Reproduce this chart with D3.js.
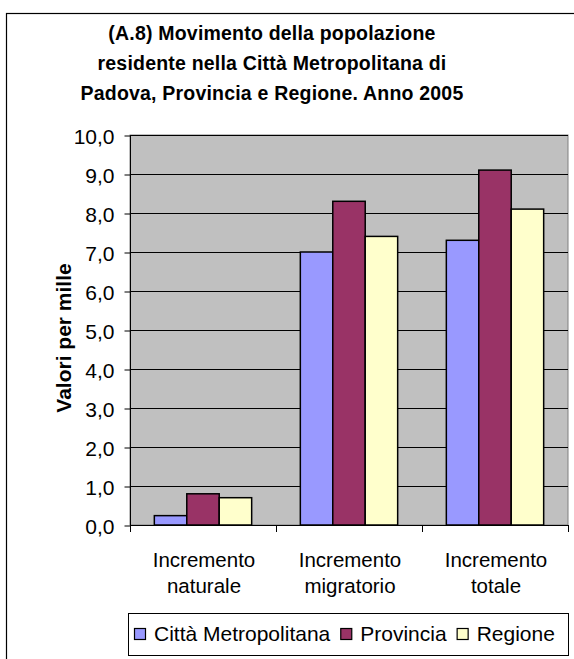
<!DOCTYPE html>
<html>
<head>
<meta charset="utf-8">
<script src="https://cdn.jsdelivr.net/npm/d3@7"></script>
<style>
  body { margin: 0; background: #fff; }
  text { font-family: "Liberation Sans", Arial, sans-serif; fill: #000; }
</style>
</head>
<body>
<div id="chart"></div>
<script>
// data
var categories = [["Incremento", "naturale"], ["Incremento", "migratorio"], ["Incremento", "totale"]];
var seriesNames = ["Città Metropolitana", "Provincia", "Regione"];
var seriesColors = ["#9999FF", "#993366", "#FFFFCC"];
var cittaMetro = [0.24, 7.0, 7.3];
var provincia = [0.8, 8.3, 9.1];
var regione = [0.7, 7.4, 8.1];
var yTicks = [0, 1, 2, 3, 4, 5, 6, 7, 8, 9, 10];
var titleLines = ["(A.8) Movimento della popolazione",
                  "residente nella Città Metropolitana di",
                  "Padova, Provincia e Regione. Anno 2005"];

var series = [cittaMetro, provincia, regione];

var W = 574, H = 659;
var plot = { left: 130, right: 568, top: 135, bottom: 525 };

var svg = d3.select("#chart").append("svg")
    .attr("width", W)
    .attr("height", H);

// outer chart border (runs off the picture at right and bottom)
svg.append("rect")
    .attr("x", 6.5).attr("y", 13.5)
    .attr("width", 700).attr("height", 800)
    .attr("fill", "#fff")
    .attr("stroke", "#000")
    .attr("stroke-width", 1.2);

// title
svg.append("g").selectAll("text")
    .data(titleLines)
    .enter().append("text")
    .attr("x", 272)
    .attr("y", function(d, i) { return 40 + i * 30; })
    .attr("text-anchor", "middle")
    .style("font-size", "19.5px")
    .style("font-weight", "bold")
    .style("letter-spacing", "0.2px")
    .text(function(d) { return d; });

var x0 = d3.scaleBand()
    .domain(d3.range(categories.length))
    .range([plot.left, plot.right])
    .paddingInner(0)
    .paddingOuter(0);

var bw = x0.bandwidth() / 4.5;   // gap width 150%

var y = d3.scaleLinear()
    .domain([0, 10])
    .range([plot.bottom, plot.top]);

// plot area
svg.append("rect")
    .attr("x", plot.left).attr("y", plot.top)
    .attr("width", plot.right - plot.left)
    .attr("height", plot.bottom - plot.top)
    .attr("fill", "#C0C0C0")
    .attr("stroke", "#808080")
    .attr("stroke-width", 1);

// gridlines
svg.append("g").selectAll("line")
    .data(yTicks.filter(function(d) { return d > 0; }))
    .enter().append("line")
    .attr("x1", plot.left).attr("x2", plot.right)
    .attr("y1", function(d) { return Math.round(y(d)) + 0.5; })
    .attr("y2", function(d) { return Math.round(y(d)) + 0.5; })
    .attr("stroke", "#000")
    .attr("stroke-width", 1);

// bars
var groups = svg.append("g").selectAll("g")
    .data(series)
    .enter().append("g")
    .attr("fill", function(d, i) { return seriesColors[i]; });

groups.each(function(vals, si) {
    d3.select(this).selectAll("rect")
        .data(vals)
        .enter().append("rect")
        .attr("x", function(d, ci) { return x0(ci) + bw * 0.75 + si * bw; })
        .attr("y", function(d) { return y(d); })
        .attr("width", bw)
        .attr("height", function(d) { return y(0) - y(d); })
        .attr("stroke", "#000")
        .attr("stroke-width", 1.5);
});

// y axis
var yAxis = d3.axisLeft(y)
    .tickValues(yTicks)
    .tickSize(6)
    .tickPadding(10)
    .tickFormat(function(d) { return d3.format(".1f")(d).replace(".", ","); });

var gy = svg.append("g")
    .attr("transform", "translate(" + (plot.left + 0.5) + ",0.5)")
    .call(yAxis);
gy.select(".domain").attr("stroke", "#000").attr("d", "M0," + plot.top + "V" + plot.bottom);
gy.selectAll(".tick line").attr("stroke", "#000");
gy.selectAll(".tick text")
    .style("font-size", "21px")
    .style("font-family", "'Liberation Sans', Arial, sans-serif")
    .attr("fill", "#000")
    .attr("dy", "0.36em");

// x axis
var xTicks = d3.range(categories.length + 1).map(function(i) {
    return plot.left + i * x0.bandwidth();
});
var gx = svg.append("g");
gx.append("line")
    .attr("x1", plot.left).attr("x2", plot.right)
    .attr("y1", plot.bottom + 0.5).attr("y2", plot.bottom + 0.5)
    .attr("stroke", "#000");
gx.selectAll(".xt")
    .data(xTicks)
    .enter().append("line")
    .attr("class", "xt")
    .attr("x1", function(d) { return Math.round(d) + 0.5; })
    .attr("x2", function(d) { return Math.round(d) + 0.5; })
    .attr("y1", plot.bottom).attr("y2", plot.bottom + 7)
    .attr("stroke", "#000");

gx.selectAll(".cat")
    .data(categories)
    .enter().append("text")
    .attr("class", "cat")
    .attr("text-anchor", "middle")
    .attr("transform", function(d, i) {
        return "translate(" + (x0(i) + x0.bandwidth() / 2 + 1) + ",567)";
    })
    .style("font-size", "20.5px")
    .each(function(d) {
        var t = d3.select(this);
        d.forEach(function(line, k) {
            t.append("tspan").attr("x", 0).attr("y", k * 26).text(line);
        });
    });

// y axis title
svg.append("text")
    .attr("transform", "translate(71," + 338 + ") rotate(-90)")
    .attr("text-anchor", "middle")
    .style("font-size", "21px")
    .style("font-weight", "bold")
    .text("Valori per mille");

// legend
var legend = svg.append("g");
legend.append("rect")
    .attr("x", 128.5).attr("y", 613.5)
    .attr("width", 440).attr("height", 42)
    .attr("fill", "#fff")
    .attr("stroke", "#000")
    .attr("stroke-width", 1);

var lx = 134;
seriesNames.forEach(function(name, i) {
    legend.append("rect")
        .attr("x", lx + 0.5).attr("y", 628.5)
        .attr("width", 11).attr("height", 11)
        .attr("fill", seriesColors[i])
        .attr("stroke", "#000")
        .attr("stroke-width", 1.2);
    var t = legend.append("text")
        .attr("x", lx + 20)
        .attr("y", 641)
        .style("font-size", "21px")
        .text(name);
    lx = lx + 20 + t.node().getComputedTextLength() + 10;
});
</script>
</body>
</html>
